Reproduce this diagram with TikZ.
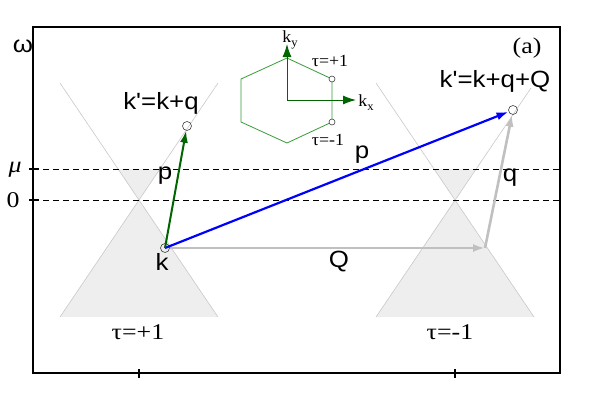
\documentclass[tikz,border=0pt]{standalone}
\usepackage{fontspec}
\setmainfont{Liberation Serif}
\newfontfamily\sff{Liberation Sans}
\usetikzlibrary{arrows.meta}
\definecolor{conefill}{HTML}{EEEEEE}
\definecolor{coneline}{HTML}{C8C8C8}
\definecolor{arrgray}{HTML}{C0C0C0}
\definecolor{dgreen}{HTML}{006400}
\definecolor{hexgreen}{HTML}{3A9A3A}
\newcommand{\sfbig}[1]{\scalebox{1.1}[1]{\sff\fontsize{23.5}{28}\selectfont #1}}
\newcommand{\rmbig}[1]{\scalebox{1.15}[1]{\fontsize{22.5}{27}\selectfont #1}}
\newcommand{\rmsmall}[1]{\scalebox{1.05}[1]{\fontsize{17}{20}\selectfont #1}}
\newcommand{\subx}[1]{\raisebox{-0.25em}{\fontsize{12}{13}\selectfont #1}}
\begin{document}
\begin{tikzpicture}[x=1pt,y=-1pt,
  lbl/.style={inner sep=0pt, anchor=base},
  pt/.style={circle, draw=black!75, line width=0.6pt, inner sep=0pt, minimum size=9pt},
  hpt/.style={circle, draw=black!75, line width=0.6pt, inner sep=0pt, minimum size=6pt},
  cone/.style={draw=coneline, line width=0.6pt},
  tip/.style={-{Latex[length=12pt,width=8pt]}},
  dline/.style={dash pattern=on 6pt off 4pt, line width=0.7pt},
  axarr/.style={dgreen, line width=1pt, -{Latex[length=13pt,width=9pt]}}]
\useasboundingbox (0,0) rectangle (600,400);
% cone fills
\fill[conefill] (139,200) -- (60,317) -- (218,317) -- cycle;
\fill[conefill] (118.1,169) -- (159.9,169) -- (139,200) -- cycle;
\fill[conefill] (455,200) -- (376,317) -- (534,317) -- cycle;
\fill[conefill] (434.1,169) -- (475.9,169) -- (455,200) -- cycle;
% cone lines
\draw[cone] (60,83) -- (218,317);
\draw[cone] (218,83) -- (60,317);
\draw[cone] (376,83) -- (534,317);
\draw[cone] (531,88) -- (376,317);
% dashed levels
\draw[dline] (33,169) -- (560,169);
\draw[dline] (33,200) -- (560,200);
% frame and ticks
\draw[line width=1.3pt] (33,27) rectangle (560,373);
\draw[line width=1.3pt] (29,169) -- (39,169);
\draw[line width=1.3pt] (29,200) -- (39,200);
\draw[line width=1.3pt] (139,369) -- (139,378);
\draw[line width=1.3pt] (455,369) -- (455,378);
% points
\node[pt] (k) at (165,248) {};
\node[pt] (kp) at (187,126) {};
\node[pt] (kq) at (513,110) {};
\coordinate (qe) at (485,248);
% arrows
\draw[arrgray, line width=2.6pt, tip] (k) -- (qe);
\draw[arrgray, line width=2.6pt, tip] (qe) -- (kq);
\draw[blue, line width=2.2pt, tip] (k.center) -- (kq);
\draw[dgreen, line width=2pt, tip] (k.center) -- (kp);
% inset
\coordinate (o) at (287,100);
\draw[hexgreen, line width=0.8pt] (287,58) -- (332,79) -- (332,122) -- (287,143) -- (241,122) -- (241,79) -- cycle;
\node[hpt, fill=white] (tp) at (332,79) {};
\node[hpt, fill=white] (tm) at (332,122) {};
\coordinate (ay) at (287,44);
\coordinate (ax) at (356,100);
\draw[axarr] (o) -- (ay);
\draw[axarr] (o) -- (ax);
\node[lbl] (ky) at (290,42) {\rmsmall{k\subx{y}}};
\node[lbl] (kx) at (366,106) {\rmsmall{k\subx{x}}};
\node[lbl] (ltp) at (330,66) {\rmsmall{τ=+1}};
\node[lbl] (ltm) at (328,145) {\rmsmall{τ=-1}};
% labels
\node[lbl] (w) at (23,52) {\sfbig{ω}};
\node[lbl] (mu) at (15,172) {\rmbig{\textit{μ}}};
\node[lbl] (zero) at (13,207) {\rmbig{0}};
\node[lbl] (a) at (527,53) {\rmbig{(a)}};
\node[lbl] (lkp) at (161,109) {\sfbig{k\textquotesingle=k+q}};
\node[lbl] (lkq) at (495,87) {\sfbig{k\textquotesingle=k+q+Q}};
\node[lbl] (p1) at (165,179) {\sfbig{p}};
\node[lbl] (p2) at (362,158) {\sfbig{p}};
\node[lbl] (lq) at (510,181) {\sfbig{q}};
\node[lbl] (lk) at (162,270) {\sfbig{k}};
\node[lbl] (lQ) at (339,267) {\sfbig{Q}};
\node[lbl] (t1) at (138,339) {\rmbig{τ=+1}};
\node[lbl] (t2) at (450,339) {\rmbig{τ=-1}};
\end{tikzpicture}
\end{document}
